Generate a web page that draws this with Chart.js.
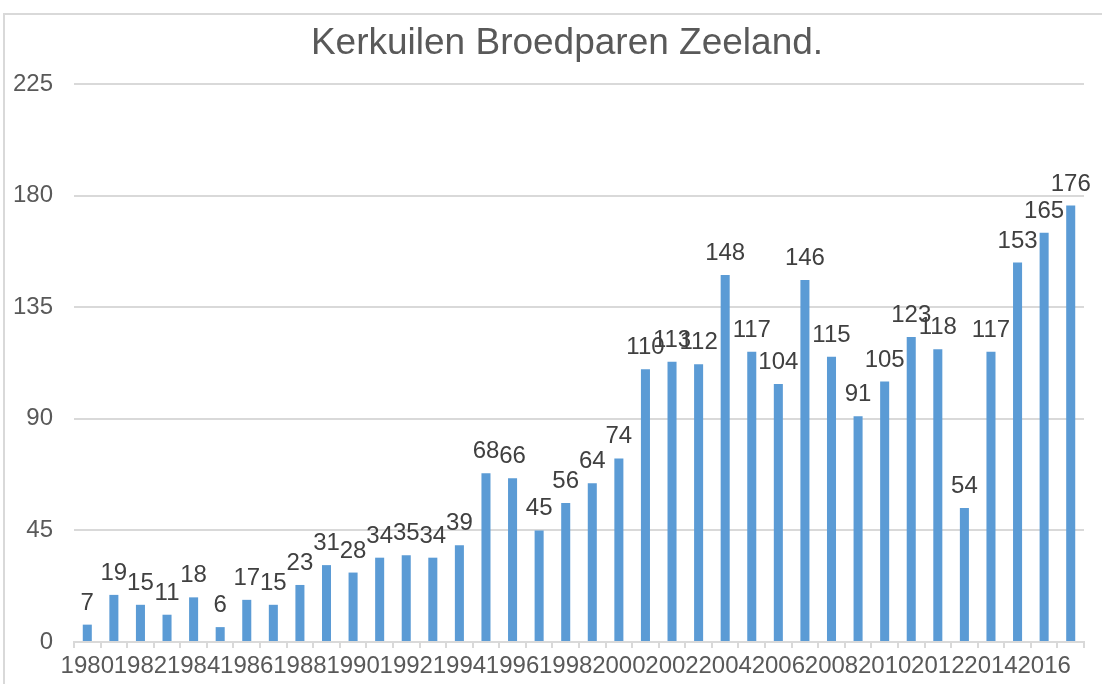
<!DOCTYPE html>
<html>
<head>
<meta charset="utf-8">
<title>Kerkuilen Broedparen Zeeland</title>
<script src="https://cdn.jsdelivr.net/npm/chart.js@4/dist/chart.umd.min.js"></script>
<style>
  html, body { margin: 0; padding: 0; background: #fff; }
  #wrap { position: relative; width: 1102px; height: 684px; overflow: hidden; }
  #frame { position: absolute; left: 3px; top: 13px; right: -10px; bottom: -10px;
           border-left: 2px solid #d9d9d9; border-top: 2px solid #d9d9d9; }
  canvas { position: absolute; left: 0; top: 0; }
</style>
</head>
<body>
<div id="wrap">
  <div id="frame"></div>
  <canvas id="chart" width="1102" height="684"></canvas>
</div>
<script>
const chartTitle = 'Kerkuilen Broedparen Zeeland.';
const years = ['1980', '1981', '1982', '1983', '1984', '1985', '1986', '1987', '1988', '1989',
  '1990', '1991', '1992', '1993', '1994', '1995', '1996', '1997', '1998', '1999',
  '2000', '2001', '2002', '2003', '2004', '2005', '2006', '2007', '2008', '2009',
  '2010', '2011', '2012', '2013', '2014', '2015', '2016', '2017'];
const pairs = [7, 19, 15, 11, 18, 6, 17, 15, 23, 31,
  28, 34, 35, 34, 39, 68, 66, 45, 56, 64,
  74, 110, 113, 112, 148, 117, 104, 146, 115, 91,
  105, 123, 118, 54, 117, 153, 165, 176];
const yTicks = [0, 45, 90, 135, 180, 225];

const FONT = '"Liberation Sans", Arial, sans-serif';
Chart.defaults.font.family = FONT;
Chart.defaults.color = '#595959';

// title drawn by hand so it can sit a little right of the canvas centre, like the original
const titlePlugin = {
  id: 'titlePlugin',
  afterDraw(chart) {
    const ctx = chart.ctx;
    ctx.save();
    ctx.font = '37px ' + FONT;
    ctx.fillStyle = '#595959';
    ctx.textAlign = 'center';
    ctx.textBaseline = 'middle';
    ctx.fillText(chartTitle, 567, 44);
    ctx.restore();
  }
};

// value above every bar
const valueLabels = {
  id: 'valueLabels',
  afterDatasetsDraw(chart) {
    const ctx = chart.ctx;
    const meta = chart.getDatasetMeta(0);
    ctx.save();
    ctx.font = '24px ' + FONT;
    ctx.fillStyle = '#404040';
    ctx.textAlign = 'center';
    ctx.textBaseline = 'alphabetic';
    meta.data.forEach((bar, i) => {
      ctx.fillText(String(pairs[i]), bar.x, bar.y - 15);
    });
    ctx.restore();
  }
};

const ctx = document.getElementById('chart').getContext('2d');
new Chart(ctx, {
  type: 'bar',
  data: {
    labels: years,
    datasets: [{
      data: pairs,
      backgroundColor: '#5b9bd5',
      borderWidth: 0,
      barPercentage: 0.34,
      categoryPercentage: 1
    }]
  },
  options: {
    responsive: false,
    animation: false,
    devicePixelRatio: 1,
    layout: { padding: { top: 84, right: 18, left: 0, bottom: 0 } },
    plugins: {
      legend: { display: false },
      tooltip: { enabled: false },
      title: { display: false }
    },
    scales: {
      x: {
        offset: true,
        border: { display: true, color: '#d9d9d9', width: 2 },
        grid: { drawOnChartArea: false, drawTicks: true, tickLength: 6, color: '#d9d9d9', lineWidth: 2 },
        ticks: {
          autoSkip: false,
          maxRotation: 0,
          minRotation: 0,
          padding: 4,
          font: { size: 24 },
          color: '#595959',
          callback: (value, index) => (index % 2 === 0 ? years[index] : '')
        },
        afterFit: (scale) => { scale.height = 42; }
      },
      y: {
        min: yTicks[0],
        max: yTicks[yTicks.length - 1],
        border: { display: false },
        grid: { drawTicks: false, color: '#d9d9d9', lineWidth: 2 },
        ticks: {
          stepSize: yTicks[1] - yTicks[0],
          padding: 21,
          font: { size: 24 },
          color: '#595959'
        },
        afterFit: (scale) => { scale.width = 74; }
      }
    }
  },
  plugins: [valueLabels, titlePlugin]
});
</script>
</body>
</html>
